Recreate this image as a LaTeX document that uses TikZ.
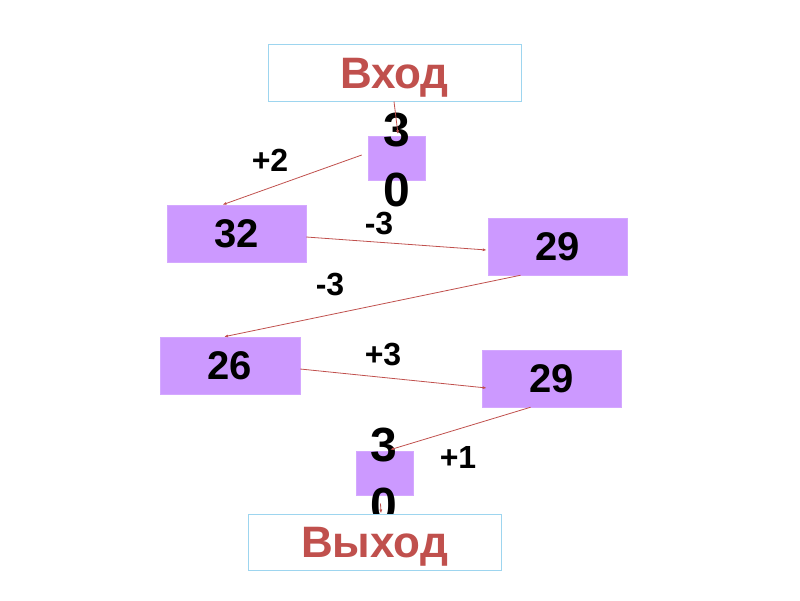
\documentclass[tikz,border=0pt]{standalone}
\usepackage{fontspec}
\setmainfont{Liberation Sans}
\usetikzlibrary{arrows.meta,calc}
\definecolor{boxfill}{HTML}{CC99FF}
\definecolor{ioborder}{HTML}{9DD5EF}
\definecolor{iotext}{HTML}{C0504D}
\definecolor{link}{HTML}{C0504D}
\tikzset{
  numbox/.style={fill=boxfill, draw=boxfill!85!white, line width=0.5pt, inner sep=0pt,
    minimum width=139pt, minimum height=57pt,
    font=\bfseries\fontsize{40}{46}\selectfont},
  smallbox/.style={fill=boxfill, draw=boxfill!85!white, line width=0.5pt, inner sep=0pt,
    minimum width=57pt, minimum height=44pt},
  iobox/.style={fill=white, draw=ioborder, line width=1pt, inner sep=0pt,
    minimum width=253pt, minimum height=57pt, text=iotext,
    text height=31.5pt, text depth=0pt,
    font=\bfseries\fontsize{44}{50}\selectfont},
  stack/.style={inner sep=0pt, align=center, font=\bfseries\fontsize{48}{60}\selectfont},
  oplabel/.style={inner sep=0pt, font=\bfseries\fontsize{32}{36}\selectfont},
  conn/.style={draw=link, line width=0.8pt, -{Latex[length=4pt,width=3pt]}}
}
\begin{document}
\begin{tikzpicture}[x=1pt,y=-1pt]
\useasboundingbox (0,0) rectangle (800,600);
% top input
\node[iobox] (vhod) at (394.5,72.5) {Вход};
\node[smallbox] (s30) at (396.5,158.5) {};
\node[stack] (t30) at (397,160) {3\\0};
% number boxes
\node[numbox] (n32) at (236.5,233.5) {32};
\node[numbox] (n29a) at (557.5,246.5) {29};
\node[numbox, minimum width=140pt] (n26) at (230,365.5) {26};
\node[numbox] (n29b) at (551.5,378.5) {29};
% bottom small box
\node[smallbox] (s30b) at (384.5,473) {};
\node[stack] (t30b) at (384,475) {3\\0};
% output box drawn over the lower digit
\node[iobox, minimum height=56pt] (vyhod) at (374.5,542) {Выход};
% operation labels
\node[oplabel] (l1) at (270,160) {+2};
\node[oplabel] (l2) at (379,224) {-3};
\node[oplabel] (l3) at (330,285) {-3};
\node[oplabel] (l4) at (383,355) {+3};
\node[oplabel] (l5) at (458,457) {+1};
% connectors
\draw[conn] ($(vhod.south)+(-0.5,0)$) -- ($(s30.north)+(1.5,-2)$);
\draw[conn] ($(s30.west)+(-6,-3.5)$) -- ($(n32.north)+(-14,0)$);
\draw[conn] ($(n32.east)+(0,3.5)$) -- ($(n29a.west)+(-1,3.5)$);
\draw[conn] ($(n29a.south)+(-37,0)$) -- ($(n26.north)+(-6,0)$);
\draw[conn] ($(n26.east)+(0,3.5)$) -- ($(n29b.west)+(5,9.5)$);
\draw[conn] ($(n29b.south)+(-21,0)$) -- ($(s30b.north)+(5.5,-1)$);
\draw[conn] ($(vyhod.north)+(6,-10)$) -- ($(vyhod.north)+(6.5,0)$);
\end{tikzpicture}
\end{document}
